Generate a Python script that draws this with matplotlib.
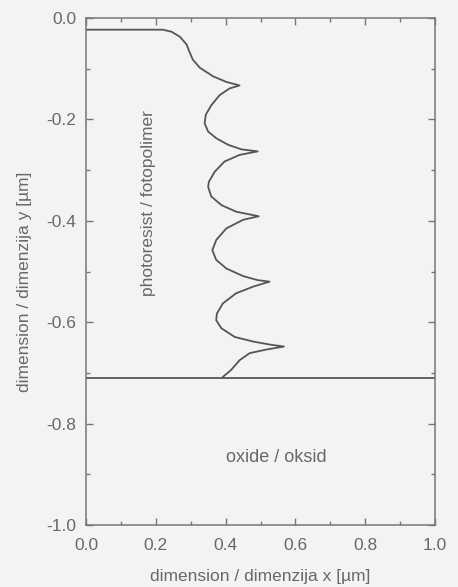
import matplotlib
matplotlib.use("Agg")
import matplotlib.pyplot as plt
from matplotlib.ticker import MultipleLocator

# resist profile (x, y in um)
profileX = [0.0, 0.22, 0.245, 0.269, 0.288, 0.296, 0.306, 0.326, 0.364, 0.402, 0.44,
            0.411, 0.383, 0.359, 0.343, 0.34, 0.35, 0.373, 0.407, 0.445, 0.492,
            0.44, 0.397, 0.369, 0.352, 0.35, 0.359, 0.388, 0.43, 0.495,
            0.45, 0.402, 0.373, 0.362, 0.373, 0.402, 0.45, 0.492, 0.526,
            0.478, 0.43, 0.392, 0.375, 0.373, 0.388, 0.426, 0.478, 0.526, 0.567,
            0.516, 0.469, 0.44, 0.416, 0.392]
profileY = [-0.023, -0.023, -0.027, -0.037, -0.052, -0.066, -0.082, -0.098, -0.115, -0.126, -0.133,
            -0.139, -0.152, -0.172, -0.191, -0.208, -0.224, -0.237, -0.250, -0.259, -0.263,
            -0.270, -0.283, -0.303, -0.323, -0.333, -0.352, -0.369, -0.382, -0.391,
            -0.398, -0.415, -0.438, -0.458, -0.477, -0.494, -0.509, -0.517, -0.520,
            -0.530, -0.543, -0.563, -0.583, -0.596, -0.612, -0.629, -0.638, -0.644, -0.648,
            -0.654, -0.661, -0.675, -0.694, -0.708]

# resist / oxide interface
interfaceX = [0.0, 1.0]
interfaceY = [-0.71, -0.71]

bg = '#f3f3f3'
lineColor = '#555555'
textColor = '#686868'

plt.rcParams['font.family'] = ['Liberation Sans', 'DejaVu Sans']

fig = plt.figure(figsize=(4.58, 5.87), dpi=100, facecolor=bg)
ax = fig.add_axes([0.1878, 0.1056, 0.762, 0.8637], facecolor=bg)

ax.plot(profileX, profileY, color=lineColor, lw=1.3, solid_joinstyle='round')
ax.plot(interfaceX, interfaceY, color=lineColor, lw=1.3)

ax.text(0.18, -0.365, "photoresist / fotopolimer", rotation=90, ha='center', va='center',
        fontsize=12.5, color=textColor)
ax.text(0.546, -0.866, "oxide / oksid", ha='center', va='center', fontsize=13, color=textColor)

ax.set_xlim(0.0, 1.0)
ax.set_ylim(-1.0, 0.0)
ax.xaxis.set_major_locator(MultipleLocator(0.2))
ax.xaxis.set_minor_locator(MultipleLocator(0.1))
ax.yaxis.set_major_locator(MultipleLocator(0.2))
ax.yaxis.set_minor_locator(MultipleLocator(0.1))
ax.xaxis.set_major_formatter(plt.FuncFormatter(lambda v, p: "%.1f" % v))
ax.yaxis.set_major_formatter(plt.FuncFormatter(lambda v, p: "%.1f" % v))

ax.tick_params(which='both', direction='in', top=True, right=True, colors='#777777',
               labelcolor=textColor, labelsize=12.5)
ax.tick_params(which='major', length=5, width=1, pad=7)
ax.tick_params(axis='x', which='major', pad=9)
ax.tick_params(which='minor', length=3, width=1)
for spine in ax.spines.values():
    spine.set_color('#777777')
    spine.set_linewidth(1.1)

ax.set_xlabel("dimension / dimenzija x [µm]", fontsize=12.5, color=textColor, labelpad=12)
ax.set_ylabel("dimension / dimenzija y [µm]", fontsize=12.5, color=textColor)
ax.yaxis.set_label_coords(-0.155, 0.48)

fig.savefig("out.png", dpi=100, facecolor=bg)
